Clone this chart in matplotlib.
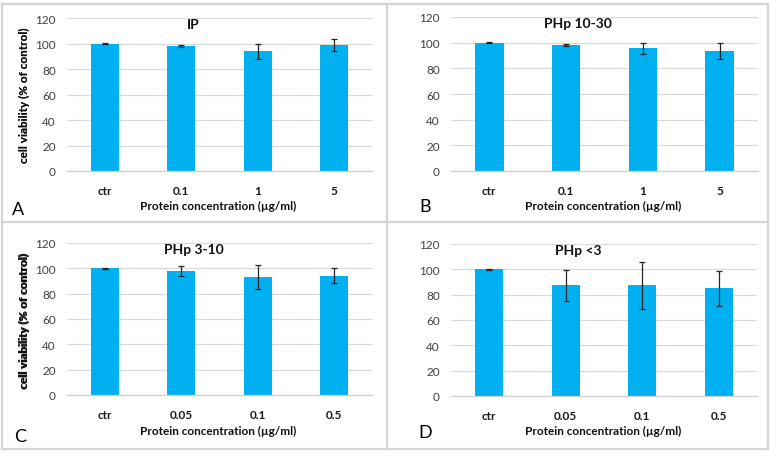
import matplotlib
matplotlib.use("Agg")
import matplotlib.pyplot as plt
from matplotlib.lines import Line2D

plt.rcParams['font.family'] = ['Lato', 'DejaVu Sans']

W, H = 779, 460

# ---- data ----
labels_AB = ["ctr", "0.1", "1", "5"]
labels_CD = ["ctr", "0.05", "0.1", "0.5"]

titles = ["IP", "PHp 10-30", "PHp 3-10", "PHp <3"]
letters = ["A", "B", "C", "D"]

ip_mean = [100, 98.0, 94.0, 98.5]
ip_err = [0.3, 0.5, 6.0, 4.7]

php1030_mean = [100, 98.2, 95.5, 93.5]
php1030_err = [0.3, 1.0, 4.3, 6.0]

php310_mean = [100, 98.0, 93.3, 94.2]
php310_err = [0.3, 4.2, 9.5, 6.0]

php3_mean = [100, 87.3, 87.3, 85.0]
php3_err = [0.3, 12.3, 18.7, 13.7]

means = [ip_mean, php1030_mean, php310_mean, php3_mean]
errs = [ip_err, php1030_err, php310_err, php3_err]
cats = [labels_AB, labels_AB, labels_CD, labels_CD]

yticks = [0, 20, 40, 60, 80, 100, 120]
ylabel = "cell viability (% of control)"
xlabel = "Protein concentration (\u00b5g/ml)"

# ---- layout (pixel boxes: left, top, right, bottom) ----
boxes = [(67, 19, 372, 172), (451, 18, 758, 172),
         (67, 244, 372, 396), (451, 245, 757, 397)]
letter_pos = [(18, 210), (425, 207), (20, 437), (425, 433)]
xlabel_pos = [(218, 206), (603, 206), (218, 431), (603, 431)]

fig = plt.figure(figsize=(W / 100, H / 100), dpi=100)

bar_color = "#00B0F0"
grid_color = "#D9D9D9"

for i in range(4):
    l, t, r, b = boxes[i]
    ax = fig.add_axes([l / W, 1 - b / H, (r - l) / W, (b - t) / H])
    x = list(range(len(cats[i])))
    ax.bar(x, means[i], width=0.37, color=bar_color, zorder=2)
    ax.errorbar(x, means[i], yerr=errs[i], fmt='none', ecolor='#262626',
                elinewidth=0.9, capsize=2.5, capthick=0.9, zorder=3)
    ax.set_xlim(-0.5, len(x) - 0.5)
    ax.set_ylim(0, 120)
    ax.set_yticks(yticks)
    ax.set_xticks(x)
    ax.set_xticklabels(cats[i], fontweight='bold', color='#1a1a1a',
                       fontsize=8.5)
    ax.yaxis.grid(True, color=grid_color, linewidth=0.9, zorder=0)
    ax.set_axisbelow(True)
    for s in ['top', 'right', 'left']:
        ax.spines[s].set_visible(False)
    ax.spines['bottom'].set_color('#D0D0D0')
    ax.spines['bottom'].set_linewidth(0.9)
    ax.tick_params(axis='both', length=0)
    ax.tick_params(axis='y', pad=8, colors='#404040', labelsize=8.5)
    ax.tick_params(axis='x', pad=10)
    ax.set_ylabel(ylabel, fontsize=8.5, fontweight='bold', color='#111111')
    ax.yaxis.set_label_coords((30 - l) / (r - l), 0.5)
    ax.text(0.415, 0.96, titles[i], transform=ax.transAxes, ha='center',
            va='center', fontsize=10, fontweight='bold', color='#111111')
    lx, ly = xlabel_pos[i]
    fig.text(lx / W, 1 - ly / H, xlabel, ha='center', va='center',
             fontsize=8.5, fontweight='bold', color='#111111')
    px, py = letter_pos[i]
    fig.text(px / W, 1 - py / H, letters[i], ha='center', va='center',
             fontsize=13, color='#000000')

# ---- panel frames ----
fc = "#D4D4D4"
lw = 1.6
def hline(y, x0, x1):
    fig.add_artist(Line2D([x0 / W, x1 / W], [1 - y / H, 1 - y / H],
                          color=fc, linewidth=lw, transform=fig.transFigure))
def vline(x, y0, y1):
    fig.add_artist(Line2D([x / W, x / W], [1 - y0 / H, 1 - y1 / H],
                          color=fc, linewidth=lw, transform=fig.transFigure))

hline(5, 2, 768)
hline(223, 2, 768)
hline(450, 2, 768)
vline(2, 5, 450)
vline(387, 5, 450)
vline(768, 5, 450)

fig.savefig("out.png", dpi=100)
